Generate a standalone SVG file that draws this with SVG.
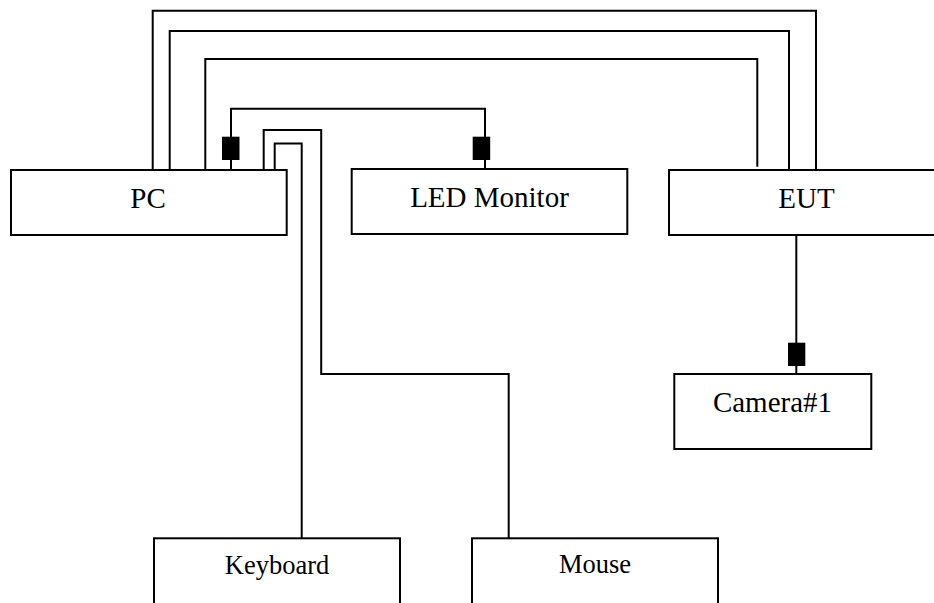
<svg xmlns="http://www.w3.org/2000/svg" width="934" height="603" viewBox="0 0 934 603">
<style>
.box{fill:#fff;stroke:#000;stroke-width:2}
.w{fill:none;stroke:#000;stroke-width:2}
.c{fill:#000}
.t{font-family:"Liberation Serif","Times New Roman",serif;font-size:29px;fill:#000;text-anchor:middle}
.s{font-size:26.5px}
</style>
<rect width="934" height="603" fill="#fff"/>
<g id="connectors">
<polyline class="w" points="152.7,170 152.7,10.7 816,10.7 816,170"/>
<polyline class="w" points="169.7,170 169.7,31 789,31 789,170"/>
<polyline class="w" points="205.3,170 205.3,59 757.3,59 757.3,166.7"/>
<polyline class="w" points="231,170 231,108.7 485,108.7 485,169"/>
<rect class="c" x="222" y="136.7" width="17.5" height="23.3"/>
<rect class="c" x="472.7" y="136.7" width="17.5" height="23.3"/>
<polyline class="w" points="263.7,170 263.7,130 321.2,130 321.2,374 508.7,374 508.7,538.3"/>
<polyline class="w" points="274.7,170 274.7,143.5 301.7,143.5 301.7,538.3"/>
<line class="w" x1="796.3" y1="235" x2="796.3" y2="374"/>
<rect class="c" x="788" y="342.7" width="17.3" height="23.3"/>
</g>
<g id="pc"><rect class="box" x="11" y="170" width="275.7" height="65"/><text class="t" x="148" y="208.3">PC</text></g>
<g id="led-monitor"><rect class="box" x="351.7" y="169" width="275.6" height="65"/><text class="t" x="489.5" y="207">LED Monitor</text></g>
<g id="eut"><rect class="box" x="669" y="170" width="290" height="65"/><text class="t" x="806.5" y="208">EUT</text></g>
<g id="camera1"><rect class="box" x="674.3" y="374" width="197" height="75"/><text class="t" x="772.5" y="411.7">Camera#1</text></g>
<g id="keyboard"><rect class="box" x="154" y="538.3" width="246" height="80"/><text class="t s" x="277" y="574.3">Keyboard</text></g>
<g id="mouse"><rect class="box" x="472" y="538.3" width="246" height="80"/><text class="t s" x="595" y="573.3">Mouse</text></g>
</svg>
